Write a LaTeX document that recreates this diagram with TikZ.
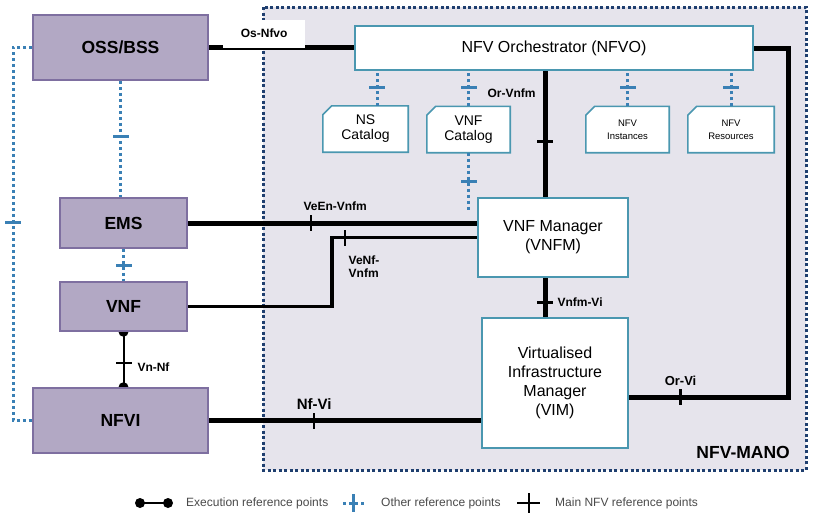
\documentclass[tikz,border=0pt]{standalone}
\usepackage{fontspec}
\setmainfont{Liberation Sans}
\usepackage{xcolor}
\definecolor{boxfill}{HTML}{B2A8C4}
\definecolor{boxline}{HTML}{7E6FA0}
\definecolor{manoline}{HTML}{1F3F6F}
\definecolor{manofill}{HTML}{E6E4EC}
\definecolor{tealline}{HTML}{4A97B0}
\definecolor{otherref}{HTML}{3A80B5}
\definecolor{legendtext}{HTML}{4A4A4A}
\pgfdeclarelayer{bg}
\pgfdeclarelayer{lines}
\pgfsetlayers{bg,lines,main}
\newcommand{\fsz}[2]{\fontsize{#1}{#2}\selectfont}

\begin{document}
\begin{tikzpicture}[x=1pt, y=-1pt,
  extbox/.style={draw=boxline, line width=1.5pt, fill=boxfill, inner sep=0, font=\bfseries\fsz{17.5}{20}},
  manobox/.style={draw=tealline, line width=1.6pt, fill=white, inner sep=0, align=center, font=\fsz{16}{18.8}},
  catbox/.style={inner sep=0, align=center, minimum height=46, font=\fsz{14}{15}},
  catline/.style={draw=tealline, line width=1.6pt, fill=white},
  reflabel/.style={inner sep=1pt, font=\bfseries\fsz{12}{13}},
  legend/.style={anchor=west, inner sep=0, text=legendtext, font=\fsz{12}{12}},
  mainline/.style={line width=5pt},
  midline/.style={line width=3.5pt},
  thinline/.style={line width=2pt},
  otherline/.style={otherref, line width=3pt, dash pattern=on 3pt off 3pt},
  vtk/.style={fill=black, inner sep=0, outer sep=0, minimum width=2.5pt, minimum height=16pt},
  htk/.style={fill=black, inner sep=0, outer sep=0, minimum width=16pt, minimum height=2.5pt},
  otk/.style={fill=otherref, inner sep=0, outer sep=0, minimum width=16pt, minimum height=3pt}]
  \useasboundingbox (0,0) rectangle (815,517);

  % NFV-MANO area
  \begin{pgfonlayer}{bg}
    \fill[white] (0,0) rectangle (815,517);
    \draw[manoline, fill=manofill, line width=3pt, dash pattern=on 3pt off 2.5pt] (263,7) rectangle (806,470);
  \end{pgfonlayer}
  \node[anchor=base east, inner sep=0, font=\bfseries\fsz{17.5}{17.5}] (manolbl) at (790,458) {NFV-MANO};

  % blocks outside MANO
  \node[extbox, minimum width=175, minimum height=65] (oss)  at (120.5,47.5)  {OSS/BSS};
  \node[extbox, minimum width=127, minimum height=50] (ems)  at (123.5,223)   {EMS};
  \node[extbox, minimum width=127, minimum height=49] (vnf)  at (123.5,306.5) {VNF};
  \node[extbox, minimum width=175, minimum height=65] (nfvi) at (120.5,420.5) {NFVI};

  % blocks inside MANO
  \node[manobox, minimum width=398, minimum height=44] (nfvo) at (554,48) {NFV Orchestrator (NFVO)};
  \node[catbox, minimum width=85] (nscat)   at (365.5,129)   {NS\\Catalog};
  \node[catbox, minimum width=83] (vnfcat)  at (468.5,129.5) {VNF\\Catalog};
  \node[catbox, minimum width=83, font=\fsz{9.5}{13}] (nfvinst) at (627.5,129.5) {NFV\\Instances};
  \node[catbox, minimum width=86, font=\fsz{9.5}{13}] (nfvres)  at (731,129.5)   {NFV\\Resources};
  \node[manobox, minimum width=150, minimum height=79]  (vnfm) at (553,237.5) {VNF Manager\\(VNFM)};
  \node[manobox, minimum width=146, minimum height=130] (vim)  at (555,383)   {Virtualised\\Infrastructure\\Manager\\(VIM)};

  \coordinate (orvnfm)  at (545,0);
  \coordinate (vnfbend) at (332,237.5);
  \coordinate (orvi)    at (788,397);
  \coordinate (loop)    at (13,420.5);
  \coordinate (catend)  at (468.5,212);

  \begin{pgfonlayer}{lines}
    % catalog outlines, corner cut off
    \foreach \cat in {nscat, vnfcat, nfvinst, nfvres}{
      \draw[catline] ([xshift=9pt]\cat.north west) -- (\cat.north east) -- (\cat.south east)
        -- (\cat.south west) -- ([yshift=-9pt]\cat.north west) -- cycle;
    }

    % main NFV reference points
    \draw[mainline] (oss.east) -- (oss.east -| nfvo.west)
      node[reflabel, pos=0.381, above, fill=white, inner sep=0, outer sep=0, minimum width=82, minimum height=28] (osnfvo) {Os-Nfvo};
    \draw[mainline] (ems.east) -- (ems.east -| vnfm.west)
      node[vtk, pos=0.426, label={[reflabel, anchor=south west, xshift=-11pt, yshift=1pt]north:VeEn-Vnfm}] (veen) {};
    \draw[midline] (vnf.east) -| (vnfbend) -- (vnfm.west)
      node[vtk, pos=0.089, label={[reflabel, anchor=north west, align=left, xshift=1pt, yshift=-8pt]south:VeNf-\\Vnfm}] (venf) {};
    \draw[mainline] (nfvo.south -| orvnfm) -- (vnfm.north -| orvnfm)
      node[htk, pos=0.56] (orvnfmtk) {}
      node[reflabel, pos=0.18, left, xshift=-6pt] (orvnfmlbl) {Or-Vnfm};
    \draw[mainline] (vnfm.south -| orvnfm) -- (vim.north -| orvnfm)
      node[htk, pos=0.63, label={[reflabel, anchor=west, xshift=1pt]east:Vnfm-Vi}] (vnfmvi) {};
    \draw[mainline] (nfvo.east) -| (orvi) -- (orvi -| vim.east)
      node[vtk, pos=0.675, label={[reflabel, font=\bfseries\fsz{13}{13}]north:Or-Vi}] (orvitk) {};
    \draw[mainline] (nfvi.east) -- (nfvi.east -| vim.west)
      node[vtk, pos=0.387, label={[reflabel, font=\bfseries\fsz{15}{15}]north:Nf-Vi}] (nfvitk) {};

    % execution reference point
    \draw[thinline] (vnf.south) -- (vnf.south |- nfvi.north)
      node[htk, pos=0.56, label={[reflabel, anchor=west, xshift=4pt, yshift=-4pt]east:Vn-Nf}] (vnnf) {};
    \fill (vnf.south) circle (5pt) (vnf.south |- nfvi.north) circle (5pt);

    % other reference points
    \draw[otherline] (oss.south) -- (oss.south |- ems.north) node[otk, pos=0.48] {};
    \draw[otherline] (ems.south) -- (ems.south |- vnf.north) node[otk, pos=0.5] {};
    \draw[otherline] (oss.west) -| (loop) node[otk, pos=0.734] {} -- (nfvi.west);
    \draw[otherline] ([xshift=11.5pt]nscat.north) -- ([xshift=11.5pt]nscat.north |- nfvo.south)
      node[otk, pos=0.53] {};
    \foreach \cat in {vnfcat, nfvinst, nfvres}{
      \draw[otherline] (\cat.north) -- (\cat.north |- nfvo.south) node[otk, pos=0.53] {};
    }
    \draw[otherline] (vnfcat.south) -- (catend) node[otk, pos=0.49] {};
  \end{pgfonlayer}

  % legend
  \draw[thinline] (140,503) -- (168,503);
  \fill (140,503) circle (5pt) (168,503) circle (5pt);
  \node[legend] (lgexec) at (186,503) {Execution reference points};
  \draw[otherline] (343,503) -- (365,503);
  \node[otk, minimum width=3pt, minimum height=18pt] (lgtick) at (353.5,503) {};
  \node[legend] (lgother) at (381,503) {Other reference points};
  \draw[line width=2pt] (517,503) -- (540,503) (528.5,493) -- (528.5,513);
  \node[legend] (lgmain) at (555,503) {Main NFV reference points};
\end{tikzpicture}
\end{document}
